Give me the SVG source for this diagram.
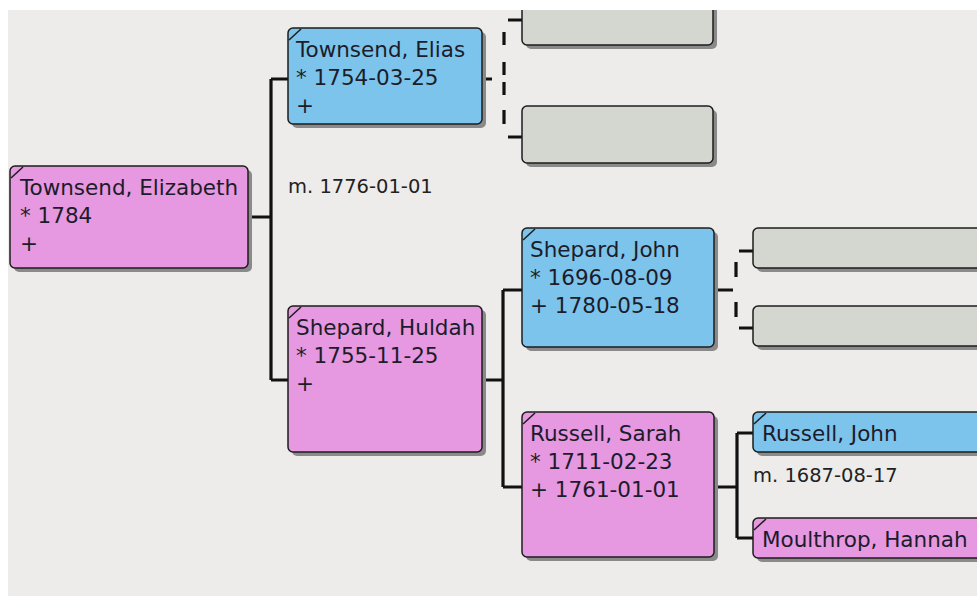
<svg xmlns="http://www.w3.org/2000/svg" width="977" height="597" viewBox="0 0 977 597">
<defs>
<style>
.bg{fill:#edecea}
.box{stroke:#1c1c1c;stroke-width:1.5}
.f{fill:#e698e0}
.m{fill:#7cc4ec}
.u{fill:#d4d6d0}
.sh{fill:#8a8a8a}
.t{font-family:"DejaVu Sans","Open Sans",sans-serif;font-size:21.5px;fill:#1c1c2a}
.lbl{font-family:"DejaVu Sans","Open Sans",sans-serif;font-size:19.5px;fill:#222}
.c{stroke:#111;stroke-width:3.2;fill:none}
.mark{stroke:#1c1c1c;stroke-width:1.5}
</style>
</defs>
<rect x="0" y="0" width="977" height="597" fill="#ffffff"/>
<rect class="bg" x="8" y="10" width="969" height="586"/>

<g id="connectors">
<path class="c" d="M248,217 H271 M271,79 V380 M271,79 H288 M271,380 H288"/>
<path class="c" d="M482,380 H503 M503,290 V487 M503,290 H522 M503,487 H522"/>
<path class="c" d="M713,487 H737 M737,433 V538 M737,433 H753 M737,538 H753"/>
<path class="c" d="M713,290 H733 M736,262 V277 M736,302 V317 M739,251 H753 M739,328 H753"/>
<path class="c" d="M482,79 H492 M504,32 V45 M504,62 V75 M504,82 V95 M504,110 V124 M508,20 H522 M508,137 H522"/>
</g>

<g id="node-elizabeth">
<rect class="sh" x="14" y="170" width="238" height="102" rx="5"/>
<rect class="box f" x="10" y="166" width="238" height="102" rx="5"/>
<line class="mark" x1="11" y1="178" x2="23" y2="167"/>
<text class="t" x="20" y="195">Townsend, Elizabeth</text>
<text class="t" x="20" y="223">* 1784</text>
<text class="t" x="20" y="251">+</text>
</g>

<g id="node-elias">
<rect class="sh" x="292" y="32" width="194" height="96" rx="5"/>
<rect class="box m" x="288" y="28" width="194" height="96" rx="5"/>
<line class="mark" x1="289" y1="40" x2="301" y2="29"/>
<text class="t" x="296" y="57">Townsend, Elias</text>
<text class="t" x="296" y="85">* 1754-03-25</text>
<text class="t" x="296" y="113">+</text>
</g>

<g id="node-huldah">
<rect class="sh" x="292" y="310" width="194" height="146" rx="5"/>
<rect class="box f" x="288" y="306" width="194" height="146" rx="5"/>
<line class="mark" x1="289" y1="318" x2="301" y2="307"/>
<text class="t" x="296" y="335">Shepard, Huldah</text>
<text class="t" x="296" y="363">* 1755-11-25</text>
<text class="t" x="296" y="391">+</text>
</g>

<g id="node-john-shepard">
<rect class="sh" x="526" y="232" width="192" height="119" rx="5"/>
<rect class="box m" x="522" y="228" width="192" height="119" rx="5"/>
<line class="mark" x1="523" y1="240" x2="535" y2="229"/>
<text class="t" x="530" y="257">Shepard, John</text>
<text class="t" x="530" y="285">* 1696-08-09</text>
<text class="t" x="530" y="313">+ 1780-05-18</text>
</g>

<g id="node-sarah">
<rect class="sh" x="526" y="416" width="192" height="145" rx="5"/>
<rect class="box f" x="522" y="412" width="192" height="145" rx="5"/>
<line class="mark" x1="523" y1="424" x2="535" y2="413"/>
<text class="t" x="530" y="441">Russell, Sarah</text>
<text class="t" x="530" y="469">* 1711-02-23</text>
<text class="t" x="530" y="497">+ 1761-01-01</text>
</g>

<g id="node-empty-1">
<rect class="sh" x="526" y="-6" width="191" height="55" rx="5"/>
<rect class="box u" x="522" y="-10" width="191" height="55" rx="5"/>
</g>
<g id="node-empty-2">
<rect class="sh" x="526" y="110" width="191" height="57" rx="5"/>
<rect class="box u" x="522" y="106" width="191" height="57" rx="5"/>
</g>
<g id="node-empty-3">
<rect class="sh" x="757" y="232" width="240" height="40" rx="5"/>
<rect class="box u" x="753" y="228" width="240" height="40" rx="5"/>
</g>
<g id="node-empty-4">
<rect class="sh" x="757" y="310" width="240" height="40" rx="5"/>
<rect class="box u" x="753" y="306" width="240" height="40" rx="5"/>
</g>

<g id="node-john-russell">
<rect class="sh" x="757" y="416" width="240" height="40" rx="5"/>
<rect class="box m" x="753" y="412" width="240" height="40" rx="5"/>
<line class="mark" x1="754" y1="424" x2="766" y2="413"/>
<text class="t" x="762" y="441">Russell, John</text>
</g>

<g id="node-hannah">
<rect class="sh" x="757" y="522" width="240" height="40" rx="5"/>
<rect class="box f" x="753" y="518" width="240" height="40" rx="5"/>
<line class="mark" x1="754" y1="530" x2="766" y2="519"/>
<text class="t" x="762" y="547">Moulthrop, Hannah</text>
</g>

<g id="labels">
<text class="lbl" x="288" y="193">m. 1776-01-01</text>
<text class="lbl" x="753" y="482">m. 1687-08-17</text>
</g>

<rect x="0" y="0" width="977" height="10" fill="#ffffff"/>
</svg>
